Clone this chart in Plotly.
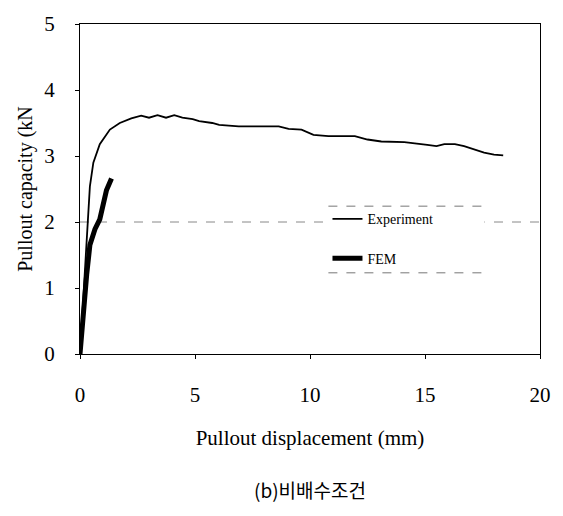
import plotly.graph_objects as go

# Experiment curve (pullout displacement mm, pullout capacity kN)
exp_x = [0.0, 0.14, 0.29, 0.43, 0.58, 0.86, 1.3, 1.73, 2.23, 2.66, 3.0, 3.37, 3.74, 4.1, 4.45,
         4.9, 5.18, 5.75, 6.05, 6.9, 7.8, 8.64, 9.07, 9.63, 10.15, 10.8, 11.95, 12.5, 13.1,
         14.1, 15.1, 15.5, 15.84, 16.3, 16.7, 17.1, 17.57, 18.0, 18.4]
exp_y = [0.0, 0.80, 1.79, 2.54, 2.9, 3.18, 3.4, 3.5, 3.57, 3.61, 3.58, 3.62, 3.58, 3.62, 3.58,
         3.56, 3.53, 3.50, 3.47, 3.45, 3.45, 3.45, 3.41, 3.40, 3.32, 3.30, 3.30, 3.25, 3.22,
         3.21, 3.17, 3.15, 3.18, 3.18, 3.15, 3.10, 3.05, 3.02, 3.01]

# FEM curve
fem_x = [0.0, 0.14, 0.29, 0.43, 0.65, 0.86, 1.0, 1.15, 1.37]
fem_y = [0.0, 0.70, 1.2, 1.65, 1.89, 2.04, 2.28, 2.48, 2.66]

x_ticks = [0, 5, 10, 15, 20]
y_ticks = [0, 1, 2, 3, 4, 5]

serif = "Liberation Serif, Times New Roman, serif"

fig = go.Figure()
fig.add_trace(go.Scatter(x=exp_x, y=exp_y, mode="lines", name="Experiment", legendgroup="a",
                         line=dict(color="black", width=1.8)))
fig.add_trace(go.Scatter(x=fem_x, y=fem_y, mode="lines", name="FEM", legendgroup="b",
                         line=dict(color="black", width=5)))

# faint dashed scan line at y=2
fig.add_shape(type="line", xref="paper", x0=0, x1=1, yref="y", y0=2, y1=2,
              line=dict(color="#888888", width=1, dash="dash"), layer="below")
# legend box: white fill with dashed top/bottom borders
fig.add_shape(type="rect", xref="paper", yref="paper", x0=0.54, x1=0.879, y0=0.246, y1=0.448,
              fillcolor="white", line=dict(width=0), layer="above")
fig.add_shape(type="line", xref="paper", yref="paper", x0=0.54, x1=0.879, y0=0.448, y1=0.448,
              line=dict(color="#777777", width=1, dash="dash"))
fig.add_shape(type="line", xref="paper", yref="paper", x0=0.54, x1=0.879, y0=0.246, y1=0.246,
              line=dict(color="#777777", width=1, dash="dash"))

fig.update_layout(
    width=563, height=516,
    margin=dict(l=80, r=20, t=17, b=162),
    paper_bgcolor="white", plot_bgcolor="white",
    showlegend=True,
    legend=dict(x=0.538, y=0.349, xanchor="left", yanchor="middle",
                font=dict(family=serif, size=14, color="black"),
                bgcolor="rgba(0,0,0,0)", tracegroupgap=18, itemwidth=30),
    font=dict(family=serif, color="black"),
    annotations=[dict(text="(b)비배수조건", xref="paper", yref="paper", x=0.5, y=-0.41,
                      xanchor="center", yanchor="middle", showarrow=False,
                      font=dict(family="Noto Sans CJK KR", size=19, color="black"))],
)
fig.update_xaxes(range=[0, 20], tickvals=x_ticks, showgrid=False, zeroline=False,
                 showline=True, linecolor="black", linewidth=1, mirror=True,
                 ticks="outside", ticklen=4, tickcolor="black",
                 tickfont=dict(family=serif, size=21), ticklabelstandoff=18,
                 title=dict(text="Pullout displacement (mm)", font=dict(family=serif, size=21),
                            standoff=24))
fig.update_yaxes(range=[0, 5], tickvals=y_ticks, showgrid=False, zeroline=False,
                 showline=True, linecolor="black", linewidth=1, mirror=True,
                 ticks="outside", ticklen=4, tickcolor="black",
                 tickfont=dict(family=serif, size=21), ticklabelstandoff=16,
                 title=dict(text="Pullout capacity (kN", font=dict(family=serif, size=20),
                            standoff=6))

fig.write_html("out.html")
